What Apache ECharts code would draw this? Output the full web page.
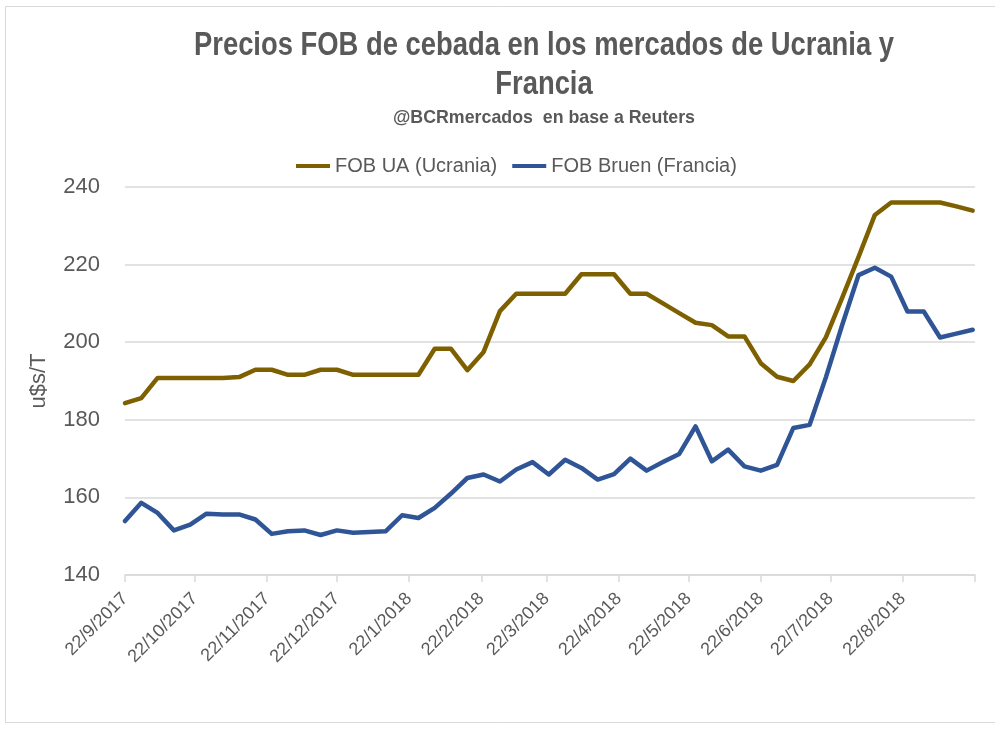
<!DOCTYPE html>
<html>
<head>
<meta charset="utf-8">
<script src="https://cdn.jsdelivr.net/npm/echarts@6/dist/echarts.min.js"></script>
<style>
html,body{margin:0;padding:0;background:#fff;}
#chart{width:995px;height:729px;}
</style>
</head>
<body>
<div id="chart"></div>
<script>
// Weekly dates (Fridays)
const dates = [
 '2017-09-22','2017-09-29','2017-10-06','2017-10-13','2017-10-20','2017-10-27',
 '2017-11-03','2017-11-10','2017-11-17','2017-11-24','2017-12-01','2017-12-08',
 '2017-12-15','2017-12-22','2017-12-29','2018-01-05','2018-01-12','2018-01-19',
 '2018-01-26','2018-02-02','2018-02-09','2018-02-16','2018-02-23','2018-03-02',
 '2018-03-09','2018-03-16','2018-03-23','2018-03-30','2018-04-06','2018-04-13',
 '2018-04-20','2018-04-27','2018-05-04','2018-05-11','2018-05-18','2018-05-25',
 '2018-06-01','2018-06-08','2018-06-15','2018-06-22','2018-06-29','2018-07-06',
 '2018-07-13','2018-07-20','2018-07-27','2018-08-03','2018-08-10','2018-08-17',
 '2018-08-24','2018-08-31','2018-09-07','2018-09-14','2018-09-21'
];
// FOB UA (Ucrania), u$s/T
const fobUA = [
 184.3,185.6,190.8,190.8,190.8,190.8,190.8,191.0,192.9,192.9,191.6,191.6,
 192.9,192.9,191.6,191.6,191.6,191.6,191.6,198.3,198.3,192.8,197.5,208.0,
 212.5,212.5,212.5,212.5,217.5,217.5,217.5,212.5,212.5,210.0,207.5,205.0,
 204.4,201.5,201.5,194.6,191.1,190.0,194.3,201.3,211.5,222.0,232.8,236.0,
 236.0,236.0,236.0,235.0,233.9
];
// FOB Bruen (Francia), u$s/T
const fobBruen = [
 153.9,158.6,156.0,151.5,153.0,155.8,155.6,155.6,154.3,150.6,151.3,151.5,
 150.3,151.5,150.9,151.1,151.3,155.4,154.7,157.3,161.0,165.0,165.9,164.1,
 167.2,169.1,165.9,169.7,167.6,164.6,166.0,170.0,166.9,169.1,171.2,178.3,
 169.3,172.3,168.0,166.9,168.4,177.9,178.7,191.0,204.5,217.3,219.2,216.9,
 207.9,207.9,201.2,202.2,203.2
];
// Monthly tick dates
const tickDates = [
 '2017-09-22','2017-10-22','2017-11-22','2017-12-22','2018-01-22','2018-02-22',
 '2018-03-22','2018-04-22','2018-05-22','2018-06-22','2018-07-22','2018-08-22','2018-09-22'
];
const labelDates = tickDates.slice(0, 12);
const seriesNames = ['FOB UA (Ucrania)', 'FOB Bruen (Francia)'];
const titleLines = ['Precios FOB de cebada en los mercados de Ucrania y', 'Francia'];
const subtitleText = '@BCRmercados  en base a Reuters';

function ts(s){ const p = s.split('-').map(Number); return Date.UTC(p[0], p[1]-1, p[2]); }
function fmt(v){ const d = new Date(v); return d.getUTCDate() + '/' + (d.getUTCMonth()+1) + '/' + d.getUTCFullYear(); }

const FONT = '"Liberation Sans", Arial, sans-serif';
const GRAY = '#595959';

// condensed look for the title: measure text and squeeze horizontally
const cv = document.createElement('canvas').getContext('2d');
function widthOf(txt, size){ cv.font = 'bold ' + size + 'px ' + FONT; return cv.measureText(txt).width; }
const titleSize = 34, subSize = 19;
const titleScale = 700 / widthOf(titleLines[0], titleSize);
const subScale = 302 / widthOf(subtitleText, subSize);
const CX = 544;
function condensedText(txt, y, size, scale){
  return {
    type: 'text', x: CX, y: y, originX: 0, originY: 0, scaleX: scale, scaleY: 1,
    style: {text: txt, fill: GRAY, font: 'bold ' + size + 'px ' + FONT, textAlign: 'center', textVerticalAlign: 'middle'}
  };
}

const chart = echarts.init(document.getElementById('chart'));
chart.setOption({
  backgroundColor: '#ffffff',
  animation: false,
  graphic: [
    {type: 'rect', shape: {x: 5.5, y: 6.5, width: 1000, height: 716},
     style: {fill: 'none', stroke: '#d9d9d9', lineWidth: 1}},
    condensedText(titleLines[0], 46, titleSize, titleScale),
    condensedText(titleLines[1], 85, titleSize, titleScale),
    condensedText(subtitleText, 118, subSize, subScale)
  ],
  legend: {
    top: 151, left: 291,
    data: seriesNames,
    icon: 'rect', itemWidth: 34, itemHeight: 4, itemGap: 15,
    textStyle: {fontFamily: FONT, fontSize: 20, color: GRAY}
  },
  grid: {left: 125, right: 20, top: 187, bottom: 154, containLabel: false},
  xAxis: {
    type: 'value',
    min: ts('2017-09-22'), max: ts('2018-09-22'),
    axisLine: {show: true, lineStyle: {color: '#d9d9d9', width: 1.5}},
    axisTick: {show: true, length: 7, lineStyle: {color: '#d9d9d9', width: 1.5},
      customValues: tickDates.map(ts)},
    axisLabel: {
      rotate: 45, margin: 21, color: GRAY, fontSize: 18, fontFamily: FONT,
      customValues: labelDates.map(ts),
      formatter: function(v){ return fmt(v); }
    },
    splitLine: {show: false}
  },
  yAxis: {
    type: 'value', min: 140, max: 240, interval: 20,
    name: 'u$s/T', nameLocation: 'middle', nameGap: 75, nameRotate: 90,
    nameTextStyle: {fontFamily: FONT, fontSize: 22, color: GRAY},
    axisLine: {show: false}, axisTick: {show: false},
    axisLabel: {color: GRAY, fontSize: 22, margin: 25, fontFamily: FONT},
    splitLine: {lineStyle: {color: '#d9d9d9', width: 1.5}}
  },
  series: [{
    name: seriesNames[0], type: 'line', showSymbol: false,
    data: dates.map((d, i) => [ts(d), fobUA[i]]),
    lineStyle: {color: '#7f6000', width: 4.5, join: 'round', cap: 'round'},
    itemStyle: {color: '#7f6000'}
  }, {
    name: seriesNames[1], type: 'line', showSymbol: false,
    data: dates.map((d, i) => [ts(d), fobBruen[i]]),
    lineStyle: {color: '#2f5597', width: 4.5, join: 'round', cap: 'round'},
    itemStyle: {color: '#2f5597'}
  }]
});
</script>
</body>
</html>
